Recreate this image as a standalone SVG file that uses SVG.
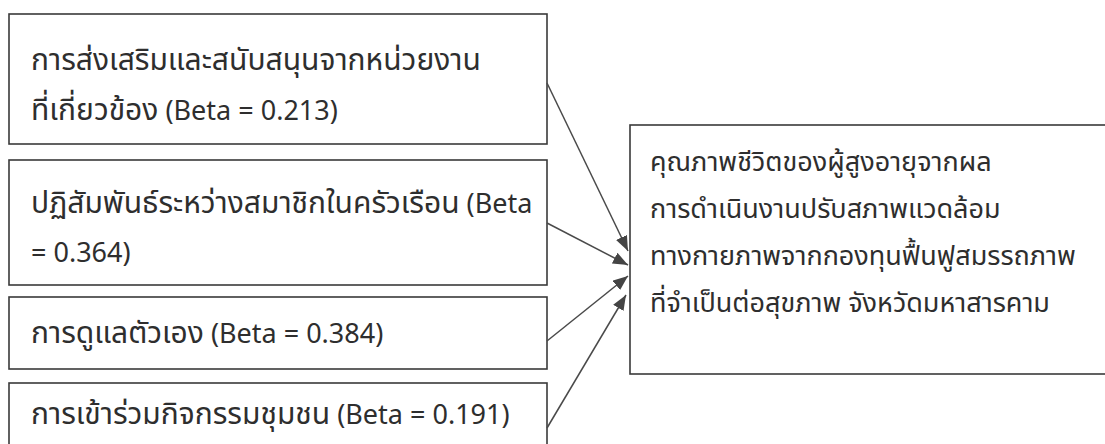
<svg xmlns="http://www.w3.org/2000/svg" width="1105" height="444" viewBox="0 0 1105 444">
<style>
.box{fill:#ffffff;stroke:#3a3a3a;stroke-width:1.6}
.t{font-family:"Noto Sans","Noto Sans Thai","DejaVu Sans",sans-serif;font-size:27px;fill:#2e2e2e}
.th{font-size:30px}
.c{stroke:#4a4a4a;stroke-width:1.5;fill:none;marker-end:url(#ah)}
</style>
<defs>
<marker id="ah" markerUnits="userSpaceOnUse" markerWidth="16" markerHeight="12" refX="15" refY="6" orient="auto">
<path d="M0,0 L15,6 L0,12 Z" fill="#444"/>
</marker>
</defs>
<rect width="1105" height="444" fill="#ffffff"/>
<g id="n1">
<rect class="box" x="9" y="14" width="538" height="130"/>
<text class="t" x="31" y="70"><tspan class="th">การส่งเสริมและสนับสนุนจากหน่วยงาน</tspan></text>
<text class="t" x="31" y="120"><tspan class="th">ที่เกี่ยวข้อง</tspan> (Beta = 0.213)</text>
</g>
<g id="n2">
<rect class="box" x="9" y="160" width="538" height="125"/>
<text class="t" x="31" y="213"><tspan class="th">ปฏิสัมพันธ์ระหว่างสมาชิกในครัวเรือน</tspan> (Beta</text>
<text class="t" x="31" y="262">= 0.364)</text>
</g>
<g id="n3">
<rect class="box" x="9" y="297" width="538" height="72"/>
<text class="t" x="31" y="343"><tspan class="th">การดูแลตัวเอง</tspan> (Beta = 0.384)</text>
</g>
<g id="n4">
<rect class="box" x="9" y="383" width="538" height="70"/>
<text class="t" x="31" y="424"><tspan class="th">การเข้าร่วมกิจกรรมชุมชน</tspan> (Beta = 0.191)</text>
</g>
<g id="n5">
<rect class="box" x="630" y="125" width="490" height="249"/>
<text class="t" x="650" y="171">คุณภาพชีวิตของผู้สูงอายุจากผล</text>
<text class="t" x="650" y="218">การดำเนินงานปรับสภาพแวดล้อม</text>
<text class="t" x="650" y="265">ทางกายภาพจากกองทุนฟื้นฟูสมรรถภาพ</text>
<text class="t" x="650" y="312">ที่จำเป็นต่อสุขภาพ จังหวัดมหาสารคาม</text>
</g>
<g id="connectors">
<line class="c" x1="547" y1="83" x2="628" y2="251"/>
<line class="c" x1="547" y1="223" x2="628" y2="265"/>
<line class="c" x1="547" y1="341" x2="628" y2="276"/>
<line class="c" x1="547" y1="428" x2="626" y2="295"/>
</g>
</svg>
